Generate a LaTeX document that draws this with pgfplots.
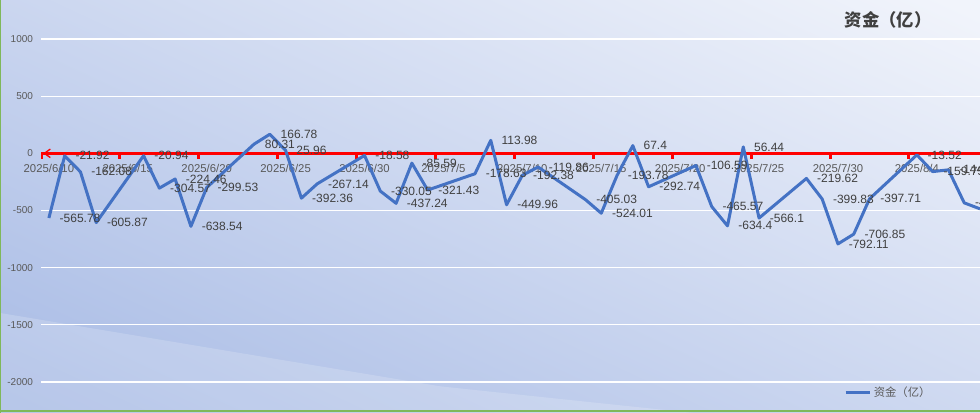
\documentclass[border=0pt]{standalone}
\usepackage{fontspec}
\setmainfont{Liberation Sans}
\newfontfamily\cjk{Noto Sans CJK SC}
\usepackage{pgfplots}
\usepackage{pgfplotstable}
\pgfplotsset{compat=1.18}

\definecolor{serblue}{HTML}{4472C4}
\definecolor{axred}{HTML}{FF0000}
\definecolor{txtgray}{HTML}{595959}
\definecolor{lblgray}{HTML}{404040}
\definecolor{bgtop}{HTML}{F1F4FB}
\definecolor{bgbot}{HTML}{A8BBE5}
\definecolor{edgegreen}{HTML}{7FB85A}

% d = calendar days after 2025/6/10 (trading days only)
\pgfplotstableread{
d y lab
0 -565.78 -565.78
1 -21.92 -21.92
2 -162.08 -162.08
3 -605.87 -605.87
6 -20.94 -20.94
7 -304.57 -304.57
8 -224.46 -224.46
9 -638.54 -638.54
10 -299.53 -299.53
13 80.31 80.31
14 166.78 166.78
15 25.96 25.96
16 -392.36 -392.36
17 -267.14 -267.14
20 -18.58 -18.58
21 -330.05 -330.05
22 -437.24 -437.24
23 -85.59 -85.59
24 -321.43 -321.43
27 -178.63 -178.63
28 113.98 113.98
29 -449.96 -449.96
30 -192.38 -192.38
31 -119.86 -119.86
34 -405.03 -405.03
35 -524.01 -524.01
36 -193.78 -193.78
37 67.4 67.4
38 -292.74 -292.74
41 -106.59 -106.59
42 -465.57 -465.57
43 -634.4 -634.4
44 56.44 56.44
45 -566.1 -566.1
48 -219.62 -219.62
49 -399.83 -399.83
50 -792.11 -792.11
51 -706.85 -706.85
52 -397.71 -397.71
55 -13.52 -13.52
56 -159.75 -159.75
57 -144.31 -144.31
58 -433.2 -433.2
59 -485.6 -485.6
}\fundtable

\begin{document}
\begin{tikzpicture}
\useasboundingbox (0,0) rectangle (735pt,309.75pt);
\clip (0,0) rectangle (735pt,309.75pt);
\shade[top color=bgtop, bottom color=bgbot, shading angle=-25] (-60pt,-60pt) rectangle (800pt,370pt);
\fill[white, opacity=0.18] (0,75pt) -- (330pt,20pt) -- (520pt,0) -- (0,0) -- cycle;
\draw[edgegreen, line width=1.2pt] (0.4pt,0) -- (0.4pt,309.75pt);
\draw[edgegreen, line width=1pt] (0,1.5pt) -- (735pt,1.5pt);

\begin{axis}[
    at={(30.75pt,23.25pt)}, anchor=south west,
    scale only axis, width=704.25pt, height=257.25pt,
    xmin=-0.5, xmax=59, ymin=-2000, ymax=1000,
    axis x line=middle, axis y line=left,
    axis line style={draw=none},
    major tick length=0pt,
    hide obscured x ticks=false,
    xtick={0,5,...,55},
    xticklabels={2025/6/10,2025/6/15,2025/6/20,2025/6/25,2025/6/30,2025/7/5,2025/7/10,2025/7/15,2025/7/20,2025/7/25,2025/7/30,2025/8/4},
    ytick={-2000,-1500,...,1000},
    ymajorgrids,
    grid style={white, line width=0.8pt},
    xticklabel style={font=\fontsize{8.5}{10}\selectfont, text=txtgray, yshift=-5pt},
    yticklabel style={font=\fontsize{7.5}{9}\selectfont, text=txtgray, xshift=-2.5pt},
    /pgf/number format/assume math mode=true,
    /pgf/number format/1000 sep={},
    legend style={at={(axis description cs:0.855,-0.03)}, anchor=west,
        draw=none, fill=none, inner sep=0pt,
        font=\cjk\fontsize{8.5}{10}\selectfont, text=txtgray},
    legend image code/.code={\draw[#1, line width=2.25pt] (0pt,0pt) -- (18pt,0pt);},
]
% red horizontal axis at zero with arrowhead and outward ticks
\draw[axred, line width=2.25pt] (axis cs:-0.5,0) -- (axis cs:59,0);
\draw[axred, line width=1pt] (axis cs:-0.5,0) ++(7pt,3.2pt) -- ++(-4.5pt,-3.2pt) -- ++(4.5pt,-3.2pt);
\pgfplotsinvokeforeach{-0.5,4.5,9.5,14.5,19.5,24.5,29.5,34.5,39.5,44.5,49.5,54.5}{
    \draw[axred, line width=2.25pt] (axis cs:#1,0) -- ([yshift=-4.5pt]axis cs:#1,0);
}
\addplot[serblue, line width=2.25pt, line join=round, mark=none,
    nodes near coords, point meta=explicit symbolic,
    every node near coord/.append style={anchor=west, xshift=6pt, inner sep=1pt,
        font=\fontsize{9}{10}\selectfont, text=lblgray}]
    table[x=d, y=y, meta=lab] {\fundtable};
\addlegendentry{资金（亿）}
\end{axis}

\node[font=\cjk\bfseries\fontsize{13}{15}\selectfont, text=lblgray] at (666pt,294.75pt) {资金（亿）};
\end{tikzpicture}
\end{document}
